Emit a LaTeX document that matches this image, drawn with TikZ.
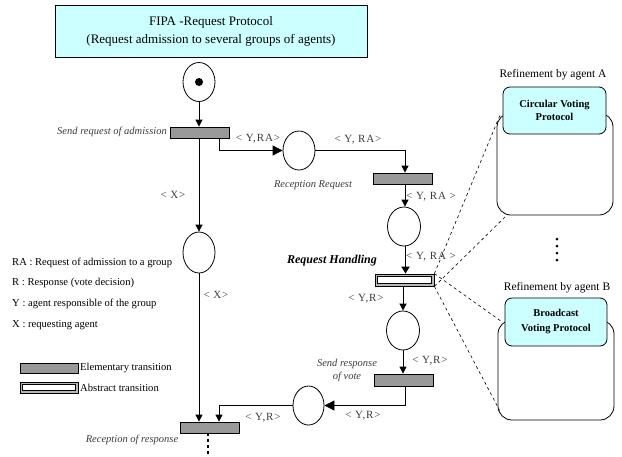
\documentclass[tikz,border=0pt]{standalone}
\usepackage{fontspec}
\setmainfont{Liberation Serif}
\usetikzlibrary{arrows.meta,shapes.geometric,calc}
\definecolor{boxcyan}{RGB}{204,255,255}
\definecolor{transgray}{RGB}{153,153,153}
\definecolor{labelgray}{RGB}{60,60,60}
\tikzset{
  place/.style={ellipse,draw,line width=0.8pt,fill=white,minimum width=32pt,minimum height=39pt,inner sep=0pt},
  trans/.style={rectangle,draw,line width=0.8pt,fill=transgray,minimum width=59pt,minimum height=11pt,inner sep=0pt},
  abstrans/.style={rectangle,draw,line width=0.8pt,fill=transgray!70,minimum width=59pt,minimum height=12pt,inner sep=0pt},
  arc/.style={line width=0.8pt,-{Triangle[length=7pt,width=7pt]}},
  arcbig/.style={line width=0.8pt,-{Triangle[length=10pt,width=10pt]}},
  arcthick/.style={line width=1.8pt,-{Triangle[length=7pt,width=8pt]}},
  inscr/.style={font=\fontsize{11}{12}\selectfont\addfontfeature{LetterSpace=8},text=labelgray,inner sep=0pt},
  tname/.style={font=\fontsize{10.5}{13}\selectfont\itshape,text=labelgray,inner sep=0pt,align=center},
  legend/.style={font=\fontsize{10.6}{12}\selectfont,anchor=west,inner sep=0pt},
  refine/.style={dashed,line width=0.6pt},
  outerbox/.style={draw,line width=0.8pt,fill=white,rounded corners=14pt},
  innerbox/.style={draw,line width=0.8pt,fill=boxcyan,rounded corners=7pt},
}
\begin{document}
\begin{tikzpicture}[x=1pt,y=-1pt]
\useasboundingbox (0,0) rectangle (622,456);

% title
\node[draw,line width=0.8pt,fill=boxcyan,minimum width=312pt,minimum height=52pt,align=center,
      font=\fontsize{13}{18}\selectfont] (title) at (211,31)
  {FIPA -Request Protocol\\(Request admission to several groups of agents)};

% places
\node[place] (p0) at (199,82) {};
\fill (p0.center) circle (4pt);
\node[place,minimum height=41pt] (px) at (199,252.5) {};
\node[place] (p1) at (299,150.5) {};
\node[place,minimum width=33pt] (p2) at (404,226.5) {};
\node[place,minimum width=33pt] (p3) at (403,330.5) {};
\node[place,minimum width=31pt] (p4) at (308.5,405.5) {};

% transitions
\node[trans] (t1) at (199.5,132.5) {};
\node[trans] (t2) at (403,178.5) {};
\node[abstrans] (th) at (404.5,280) {};
\draw[line width=0.8pt,fill=white] ([shift={(3,3)}]th.north west) rectangle ([shift={(-3,-3)}]th.south east);
\node[trans,minimum height=12pt] (t3) at (403.5,380) {};
\node[trans] (t4) at (209.5,427.5) {};

% transition names
\node[tname,anchor=east] (n1) at (167,132) {Send request of admission};
\node[tname] (n2) at (313,185) {Reception Request};
\node[tname,font=\fontsize{12}{13}\selectfont\bfseries\itshape,text=black] (n3) at (332,261) {Request Handling};
\node[tname] (n4) at (347,370) {Send response\\of vote};
\node[tname] (n5) at (132,440) {Reception of response};

% arcs
\draw[arc] (p0.south) -- (p0.south |- t1.north);
\draw[arc] (t1.south -| px) -- (px.north);
\draw[arcbig] ([xshift=19.5pt]t1.south) |- (p1.west);
\draw[arc] (p1.east) -| ([xshift=2pt]t2.north);
\draw[arc] ([xshift=2pt]t2.south) -- ([xshift=2pt]t2.south |- p2.north);
\draw[arcthick] ([xshift=1pt]th.north |- p2.south) -- ([xshift=1pt]th.north);
\draw[arc] (th.south -| p3) -- (p3.north);
\draw[arc] (p3.south) -- (p3.south |- t3.north);
\draw[arcbig] ([xshift=2pt]t3.south) |- (p4.east);
\draw[arc] (p4.west) -| ([xshift=9.5pt]t4.north);
\draw[arc] (px.south) -- (px.south |- t4.north);
\draw[line width=2.6pt,dash pattern=on 3pt off 3pt] ([xshift=-1.5pt]t4.south) -- ++(0,24);

% arc inscriptions
\node[inscr] (i1) at (173,195) {< X>};
\node[inscr] (i2) at (216,295) {< X>};
\node[inscr] (i3) at (258,139) {< Y,RA>};
\node[inscr] (i4) at (358,140) {< Y, RA>};
\node[inscr] (i5) at (431,197) {< Y, RA >};
\node[inscr] (i6) at (431,257) {< Y, RA >};
\node[inscr] (i7) at (366,299) {< Y,R>};
\node[inscr] (i8) at (430,361) {< Y,R>};
\node[inscr] (i9) at (363,416) {< Y,R>};
\node[inscr] (i10) at (263,418) {< Y,R>};

% legend
\node[legend] (l1) at (12,263) {RA : Request of admission to a group};
\node[legend] (l2) at (12,283) {R : Response (vote decision)};
\node[legend] (l3) at (12,304) {Y : agent responsible of the group};
\node[legend] (l4) at (12,325) {X : requesting agent};
\node[trans,minimum width=58pt,minimum height=10pt] (le) at (49,368) {};
\node[legend] (le-t) at (80,368) {Elementary transition};
\node[abstrans,minimum width=58pt,minimum height=11pt] (la) at (49,387.5) {};
\draw[line width=0.8pt,fill=white] ([shift={(3,3)}]la.north west) rectangle ([shift={(-3,-3)}]la.south east);
\node[legend] (la-t) at (80,388) {Abstract transition};

% refinements
\node[font=\fontsize{11.5}{12}\selectfont,inner sep=0pt] (ra) at (553,75) {Refinement by agent A};
\node[outerbox,minimum width=116pt,minimum height=102pt] (ba) at (555,164) {};
\node[innerbox,minimum width=103pt,minimum height=47pt,align=center,
      font=\fontsize{10.5}{13}\selectfont\bfseries] (ca) at (554.5,110.5) {Circular Voting\\Protocol};
\foreach \k in {0,1,2,3} \fill (557,239+7*\k) circle (1.5pt);
\node[font=\fontsize{11.5}{12}\selectfont,inner sep=0pt] (rb) at (557,288) {Refinement by agent B};
\node[outerbox,minimum width=116pt,minimum height=100pt] (bb) at (556,370) {};
\node[innerbox,minimum width=102pt,minimum height=48pt,align=center,
      font=\fontsize{10.5}{15}\selectfont\bfseries] (cb) at (556,322) {Broadcast\\Voting Protocol};

% zoom lines from the abstract transition
\draw[refine] (th.north east) -- ([shift={(4,1)}]ba.north west);
\draw[refine] (th.south east) -- ([shift={(11,-1)}]ba.south west);
\draw[refine] (th.north east) -- ([shift={(4,2)}]bb.north west);
\draw[refine] (th.south east) -- ([shift={(2,-10)}]bb.south west);
\end{tikzpicture}
\end{document}
